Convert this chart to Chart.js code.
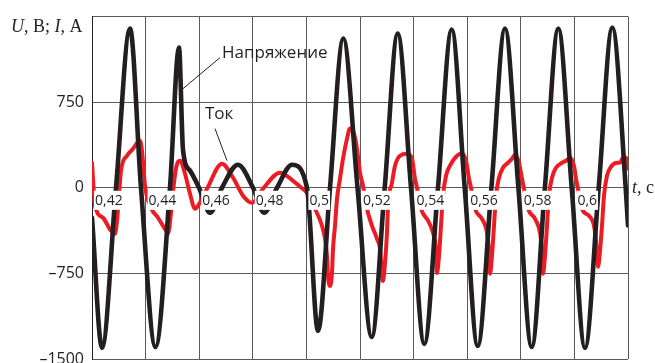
<!DOCTYPE html>
<html>
<head>
<meta charset="utf-8">
<title>Напряжение и ток</title>
<script src="https://cdn.jsdelivr.net/npm/chart.js@4.4.1/dist/chart.umd.min.js"></script>
<style>
  html, body { margin: 0; padding: 0; background: #fff; }
  canvas { display: block; }
</style>
</head>
<body>
<canvas id="waveChart" width="655" height="363"></canvas>
<script>
// Напряжение (black), t in seconds, U in volts
const uTime = [0.42000, 0.42373, 0.42896, 0.43418, 0.43828, 0.44369, 0.44910, 0.45246, 0.45396, 0.45657, 0.45993,
  0.46403, 0.46851, 0.47448, 0.48007, 0.48418, 0.48903, 0.49463, 0.50022,
  0.50433, 0.50881, 0.51377, 0.51907, 0.52437, 0.52922, 0.53407, 0.53903, 0.54399, 0.54910, 0.55422, 0.55907,
  0.56392, 0.56903, 0.57410, 0.57910, 0.58407, 0.58899, 0.59399, 0.59899, 0.60396, 0.60907, 0.61414, 0.61914, 0.62000];
const uVolt = [-263, -1403, 0, 1395, 0, -1395, 0, 1228, 330, 150, 0,
  -219, 0, 202, 0, -219, 0, 202, 0,
  -1254, 0, 1307, 0, -1307, 0, 1350, 0, -1368, 0, 1386, 0,
  -1386, 0, 1395, 0, -1395, 0, 1395, 0, -1403, 0, 1403, 0, -330];

// Ток (red), t in seconds, I in amperes
const iTime = [0.42000, 0.42056, 0.42112, 0.42410, 0.42709, 0.42858, 0.42933, 0.43007, 0.43082, 0.43306, 0.43530,
  0.43716, 0.43791, 0.43866, 0.43978, 0.44201, 0.44463, 0.44761, 0.44836, 0.44948, 0.45060, 0.45134,
  0.45209, 0.45284, 0.45470, 0.45657, 0.45843, 0.45955, 0.46291, 0.46851, 0.47261, 0.47634, 0.47970,
  0.48381, 0.49015, 0.49500, 0.49761, 0.50022, 0.50321, 0.50582, 0.50694, 0.50769, 0.50806, 0.50881,
  0.50955, 0.50993, 0.51067, 0.51142, 0.51254, 0.51366, 0.51515, 0.51627, 0.51739, 0.51888, 0.52000,
  0.52112, 0.52261, 0.52448, 0.52634, 0.52746, 0.52821, 0.52858, 0.52933, 0.53007, 0.53045, 0.53194,
  0.53306, 0.53493, 0.53754, 0.53940, 0.54052, 0.54127,
  0.54276, 0.54537, 0.54724, 0.54836, 0.54873, 0.54948, 0.55022, 0.55097, 0.55209, 0.55358, 0.55619,
  0.55806, 0.55955, 0.56067, 0.56142,
  0.56291, 0.56552, 0.56739, 0.56813, 0.56851, 0.56925, 0.57000, 0.57075, 0.57187, 0.57336, 0.57522,
  0.57672, 0.57784, 0.57933, 0.58045, 0.58119,
  0.58269, 0.58530, 0.58716, 0.58791, 0.58828, 0.58903, 0.58978, 0.59052, 0.59164, 0.59313, 0.59537,
  0.59687, 0.59836, 0.59985, 0.60060, 0.60134,
  0.60284, 0.60545, 0.60731, 0.60806, 0.60881, 0.60955, 0.61030, 0.61104, 0.61216, 0.61366, 0.61590,
  0.61701, 0.61813, 0.61925, 0.62000];
const iAmp = [219, 0, -158, -263, -377, -403, -289, -70, 149, 281, 342,
  404, 412, 325, 18, -175, -263, -377, -403, -219, 44, 167,
  228, 237, 123, -53, -184, -158, -9, 211, 88, -70, -132,
  -9, 132, 61, 9, -44, -184, -333, -447, -596, -772, -860,
  -746, -535, -333, -96, 79, 254, 430, 518, 500, 342, 132,
  18, -184, -333, -447, -535, -746, -816, -658, -395, -158, 44,
  193, 281, 298, 254, 79, 0,
  -184, -289, -395, -553, -746, -596, -333, -70, 105, 193, 281,
  298, 237, 79, 0,
  -184, -272, -395, -553, -754, -596, -333, -70, 88, 175, 219,
  254, 289, 219, 79, -9,
  -184, -272, -395, -553, -754, -596, -333, -70, 88, 175, 219,
  237, 263, 193, 79, -9,
  -184, -246, -333, -465, -693, -553, -333, -70, 105, 184, 219,
  219, 263, 263, 167];

// tick labels, bottom to top / left to right
const yTickLabels = ['\u20131500', '\u2013750', '0', '750', ''];
const xTickLabels = ['0,42', '0,44', '0,46', '0,48', '0,5', '0,52', '0,54', '0,56', '0,58', '0,6', ''];

const INK = '#231f20';
const RED = '#ed1c24';
const GRID = '#5a5a5c';
const SANS = '"Open Sans", "DejaVu Sans", sans-serif';
const SERIF = '"Liberation Serif", "DejaVu Serif", serif';

function toPoints(xs, ys) {
  return xs.map((x, i) => ({ x: x, y: ys[i] }));
}

// draws a row of text pieces, some italic
function drawRuns(ctx, x, y, runs, size) {
  runs.forEach(([text, italic]) => {
    ctx.font = (italic ? 'italic ' : '') + size + 'px ' + SERIF;
    ctx.fillText(text, x, y);
    x += ctx.measureText(text).width;
  });
}

const textPlugin = {
  id: 'waveText',
  afterDraw(chart) {
    const ctx = chart.ctx;
    const xs = chart.scales.x;
    const ys = chart.scales.y;
    ctx.save();
    ctx.fillStyle = INK;
    ctx.strokeStyle = INK;
    ctx.textBaseline = 'alphabetic';
    ctx.textAlign = 'left';

    // axis names
    drawRuns(ctx, 11, 32, [['U', true], [', В; ', false], ['I', true], [', А', false]], 18);
    drawRuns(ctx, 632, 193, [['t', true], [', с', false]], 18);

    // callouts
    ctx.lineWidth = 1;
    ctx.beginPath();
    ctx.moveTo(xs.getPixelForValue(0.46776), ys.getPixelForValue(1140));
    ctx.lineTo(xs.getPixelForValue(0.45396), ys.getPixelForValue(868));
    ctx.moveTo(xs.getPixelForValue(0.46590), ys.getPixelForValue(518));
    ctx.lineTo(xs.getPixelForValue(0.47037), ys.getPixelForValue(237));
    ctx.stroke();

    ctx.font = '17px ' + SANS;
    ctx.fillText('Напряжение', xs.getPixelForValue(0.46851), ys.getPixelForValue(1140));
    ctx.fillText('Ток', xs.getPixelForValue(0.46216), ys.getPixelForValue(605));
    ctx.restore();
  }
};

new Chart(document.getElementById('waveChart'), {
  type: 'line',
  data: {
    datasets: [
      {
        label: 'Напряжение',
        data: toPoints(uTime, uVolt),
        borderColor: INK,
        borderWidth: 4.6,
        order: 0
      },
      {
        label: 'Ток',
        data: toPoints(iTime, iAmp),
        borderColor: RED,
        borderWidth: 4,
        order: 1
      }
    ]
  },
  options: {
    responsive: false,
    animation: false,
    layout: { padding: { top: 16.5, right: 27, bottom: 4, left: 0 } },
    elements: {
      point: { radius: 0 },
      line: { cubicInterpolationMode: 'monotone', borderJoinStyle: 'round', borderCapStyle: 'round', fill: false }
    },
    plugins: {
      legend: { display: false },
      tooltip: { enabled: false }
    },
    scales: {
      x: {
        type: 'linear',
        position: { y: 0 },
        min: 0.42,
        max: 0.62,
        afterFit(scale) { scale.paddingLeft = 0; scale.paddingRight = 0; },
        grid: { color: GRID, lineWidth: 1, drawTicks: false },
        border: { color: GRID },
        ticks: {
          stepSize: 0.02,
          align: 'start',
          labelOffset: 3,
          padding: 5,
          z: 1,
          color: INK,
          font: { family: SANS, size: 14, lineHeight: 1.15 },
          showLabelBackdrop: true,
          backdropColor: '#ffffff',
          backdropPadding: { top: 2, bottom: 1, left: 1, right: 1 },
          callback: (value, index) => xTickLabels[index]
        }
      },
      y: {
        min: -1500,
        max: 1500,
        afterFit(scale) { scale.width = 92; scale.paddingTop = 0; scale.paddingBottom = 0; },
        grid: { color: GRID, lineWidth: 1, drawTicks: false },
        border: { color: INK },
        ticks: {
          stepSize: 750,
          padding: 8,
          color: INK,
          font: { family: SANS, size: 16 },
          callback: (value, index) => yTickLabels[index]
        }
      }
    }
  },
  plugins: [textPlugin]
});
</script>
</body>
</html>
